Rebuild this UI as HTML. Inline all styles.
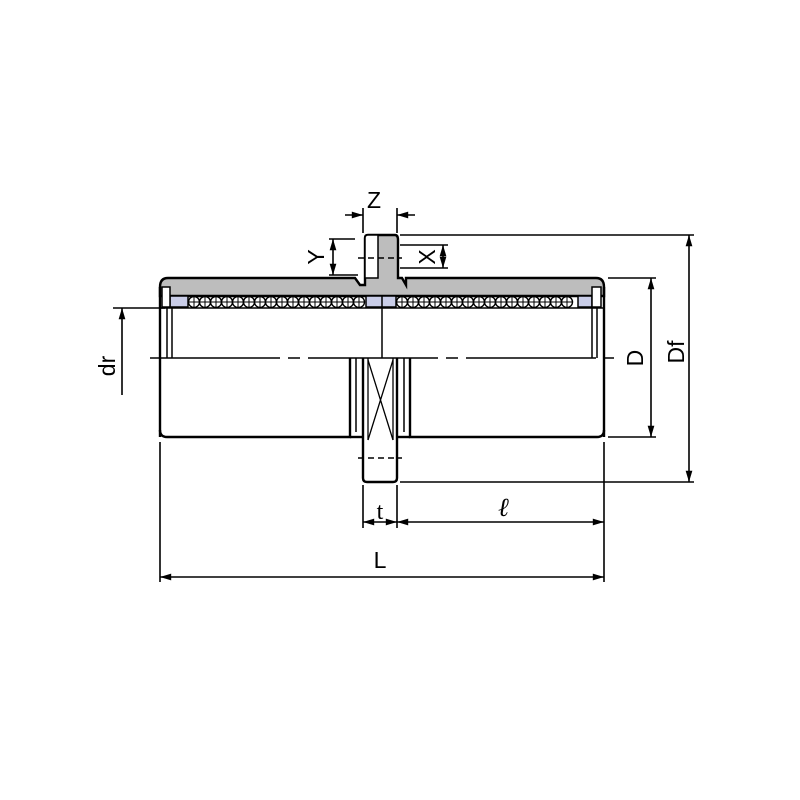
<!DOCTYPE html>
<html><head><style>body{margin:0;background:#fff}svg{display:block}</style></head><body>
<svg width="800" height="800" viewBox="0 0 800 800" xmlns="http://www.w3.org/2000/svg" font-family="Liberation Sans, sans-serif">
<defs>
<marker id="a" viewBox="0 0 10 10" refX="10" refY="5" markerWidth="9" markerHeight="7" orient="auto-start-reverse"><path d="M0,2 L10,5 L0,8z" fill="#000"/></marker>
<g id="ball"><circle r="5.5" fill="#fff" stroke="#000" stroke-width="1.4"/><path d="M-5.5,0H5.5M0,-5.5V5.5" stroke="#000" stroke-width="1"/></g>
</defs>
<g stroke="#000" stroke-width="2.4" fill="none">
<path d="M160,287 Q160,278 168,278 H355 L360,285 H365 V238 Q365,235 368,235 H395 Q398,235 398,240 V278 H402 L406,285 V278 H596 Q604,278 604,287 V296 H160 Z" fill="#bdbdbd"/>
<path d="M365,278 V238 Q365,235 368,235 H378 V278 Z" fill="#fff" stroke-width="1.5"/>
<rect x="170" y="296" width="18" height="11" fill="#c9cde8" stroke-width="1.5"/>
<rect x="366" y="296" width="30" height="11" fill="#c9cde8" stroke-width="1.5"/>
<rect x="578" y="296" width="14" height="11" fill="#c9cde8" stroke-width="1.5"/>
<rect x="162" y="287" width="8" height="20" fill="#fff" stroke-width="1.5"/>
<rect x="592" y="287" width="9" height="20" fill="#fff" stroke-width="1.5"/>
<line x1="160" y1="308" x2="604" y2="308" stroke-width="1.5"/>
<line x1="160" y1="287" x2="160" y2="437"/>
<line x1="604" y1="287" x2="604" y2="437"/>
<line x1="167" y1="307" x2="167" y2="358" stroke-width="1.5"/>
<line x1="172" y1="307" x2="172" y2="358" stroke-width="1.5"/>
<line x1="592" y1="307" x2="592" y2="358" stroke-width="1.5"/>
<line x1="597" y1="307" x2="597" y2="358" stroke-width="1.5"/>
<line x1="382" y1="296" x2="382" y2="358" stroke-width="1.5"/>
<path d="M160,430 Q160,437 167,437 H350 V358 M410,358 V437 H597 Q604,437 604,430"/>
<line x1="350" y1="437" x2="363" y2="437"/>
<line x1="397" y1="437" x2="410" y2="437"/>
<line x1="356" y1="358" x2="356" y2="432" stroke-width="1.5"/>
<line x1="404" y1="358" x2="404" y2="432" stroke-width="1.5"/>
<line x1="363" y1="358" x2="363" y2="478"/>
<line x1="397" y1="358" x2="397" y2="478"/>
<line x1="368" y1="358" x2="368" y2="440" stroke-width="1.3"/>
<line x1="393" y1="358" x2="393" y2="440" stroke-width="1.3"/>
<path d="M368,360 L393,440 M393,360 L368,440" stroke-width="1.3"/>
<path d="M363,478 Q363,482 367,482 H393 Q397,482 397,478"/>
<line x1="358" y1="458" x2="402" y2="458" stroke-dasharray="6,4" stroke-width="1.5"/>
<line x1="358" y1="258" x2="402" y2="258" stroke-dasharray="6,4" stroke-width="1.5"/>
<line x1="150" y1="358" x2="614" y2="358" stroke-width="1.5" stroke-dasharray="130,8,12,8"/>
</g>
<g>
<use href="#ball" x="194" y="302"/><use href="#ball" x="205" y="302"/><use href="#ball" x="216" y="302"/><use href="#ball" x="227" y="302"/><use href="#ball" x="238" y="302"/><use href="#ball" x="249" y="302"/><use href="#ball" x="260" y="302"/><use href="#ball" x="271" y="302"/><use href="#ball" x="282" y="302"/><use href="#ball" x="293" y="302"/><use href="#ball" x="304" y="302"/><use href="#ball" x="315" y="302"/><use href="#ball" x="326" y="302"/><use href="#ball" x="337" y="302"/><use href="#ball" x="348" y="302"/><use href="#ball" x="359" y="302"/>
<use href="#ball" x="402" y="302"/><use href="#ball" x="413" y="302"/><use href="#ball" x="424" y="302"/><use href="#ball" x="435" y="302"/><use href="#ball" x="446" y="302"/><use href="#ball" x="457" y="302"/><use href="#ball" x="468" y="302"/><use href="#ball" x="479" y="302"/><use href="#ball" x="490" y="302"/><use href="#ball" x="501" y="302"/><use href="#ball" x="512" y="302"/><use href="#ball" x="523" y="302"/><use href="#ball" x="534" y="302"/><use href="#ball" x="545" y="302"/><use href="#ball" x="556" y="302"/><use href="#ball" x="567" y="302"/>
</g>
<g stroke="#000" stroke-width="1.6" fill="none">
<line x1="363" y1="208" x2="363" y2="233"/><line x1="397" y1="208" x2="397" y2="233"/>
<line x1="345" y1="215" x2="363" y2="215" marker-end="url(#a)"/><line x1="415" y1="215" x2="397" y2="215" marker-end="url(#a)"/>
<line x1="329" y1="239" x2="355" y2="239"/><line x1="329" y1="275" x2="358" y2="275"/>
<line x1="333" y1="239" x2="333" y2="275" marker-start="url(#a)" marker-end="url(#a)"/>
<line x1="400" y1="245" x2="448" y2="245"/><line x1="400" y1="268" x2="448" y2="268"/>
<line x1="443" y1="245" x2="443" y2="268" marker-start="url(#a)" marker-end="url(#a)"/>
<line x1="400" y1="235" x2="694" y2="235"/><line x1="400" y1="482" x2="694" y2="482"/>
<line x1="689" y1="235" x2="689" y2="482" marker-start="url(#a)" marker-end="url(#a)"/>
<line x1="608" y1="278" x2="656" y2="278"/><line x1="608" y1="437" x2="656" y2="437"/>
<line x1="651" y1="278" x2="651" y2="437" marker-start="url(#a)" marker-end="url(#a)"/>
<line x1="113" y1="308" x2="165" y2="308"/>
<line x1="122" y1="308" x2="122" y2="395" marker-start="url(#a)"/>
<line x1="363" y1="485" x2="363" y2="528"/><line x1="397" y1="485" x2="397" y2="528"/>
<line x1="604" y1="442" x2="604" y2="582"/><line x1="160" y1="442" x2="160" y2="582"/>
<line x1="363" y1="522" x2="397" y2="522" marker-start="url(#a)" marker-end="url(#a)"/>
<line x1="397" y1="522" x2="604" y2="522" marker-start="url(#a)" marker-end="url(#a)"/>
<line x1="160" y1="577" x2="604" y2="577" marker-start="url(#a)" marker-end="url(#a)"/>
</g>
<g font-size="23" fill="#000">
<text x="367" y="208">Z</text>
<text transform="translate(324,257) rotate(-90)" text-anchor="middle">Y</text>
<text transform="translate(435,257) rotate(-90)" text-anchor="middle">X</text>
<text transform="translate(643,358) rotate(-90)" text-anchor="middle">D</text>
<text transform="translate(684,352) rotate(-90)" text-anchor="middle">Df</text>
<text transform="translate(115,366) rotate(-90)" text-anchor="middle">dr</text>
<text x="380" y="568" text-anchor="middle">L</text>
<text x="380" y="519" text-anchor="middle" font-family="Liberation Serif, serif" font-size="24">t</text>
<text x="504" y="516" text-anchor="middle" font-family="Liberation Serif, serif" font-style="italic" font-weight="bold" font-size="26">ℓ</text>
</g>
</svg>
</body></html>
